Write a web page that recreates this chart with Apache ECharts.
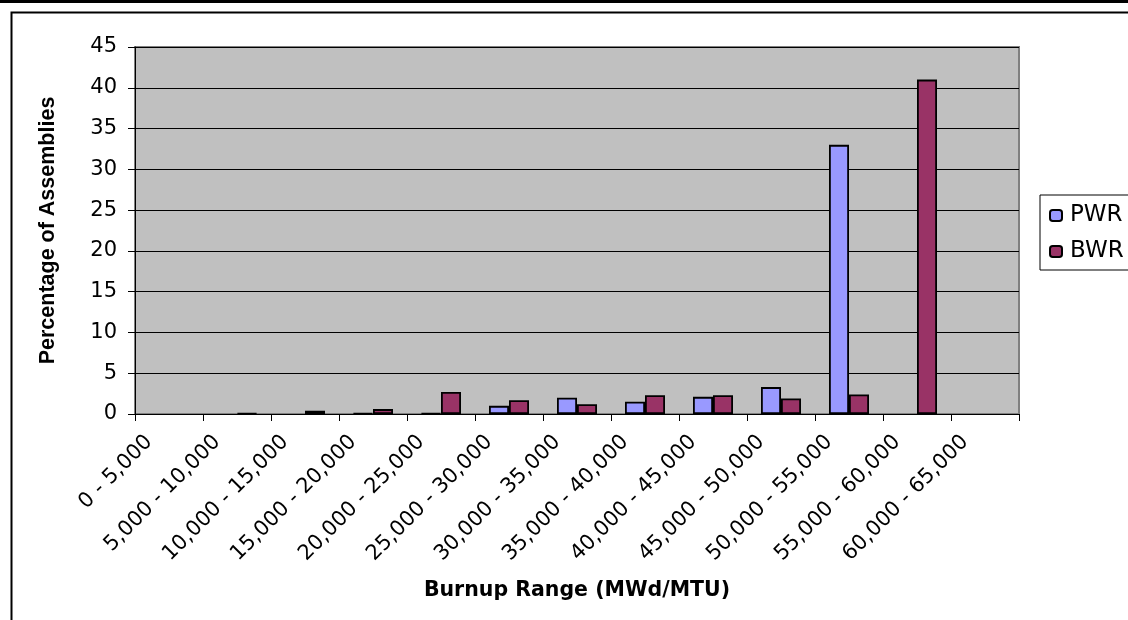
<!DOCTYPE html>
<html>
<head>
<meta charset="utf-8">
<style>
  html, body { margin: 0; padding: 0; background: #ffffff; }
  #chart { width: 1128px; height: 620px; }
</style>
<script src="https://cdn.jsdelivr.net/npm/echarts@6/dist/echarts.min.js"></script>
</head>
<body>
<div id="chart"></div>
<script>
// Burnup ranges (MWd/MTU)
const categories = [
  '0 - 5,000', '5,000 - 10,000', '10,000 - 15,000', '15,000 - 20,000',
  '20,000 - 25,000', '25,000 - 30,000', '30,000 - 35,000', '35,000 - 40,000',
  '40,000 - 45,000', '45,000 - 50,000', '50,000 - 55,000', '55,000 - 60,000',
  '60,000 - 65,000'
];

// Percentage of assemblies in each range (null = no bar)
const pwrValues = [null, null, null, 0.1, 0.1, 1.0, 2.0, 1.5, 2.1, 3.3, 33, null, null];
const bwrValues = [null, 0.1, 0.4, 0.6, 2.7, 1.7, 1.2, 2.3, 2.3, 1.9, 2.4, 41, null];

const seriesNames = ['PWR', 'BWR'];
const yTicks = { min: 0, max: 45, interval: 5 };

const WIDE = '"DejaVu Sans", Verdana, sans-serif';
const ARIAL = '"Liberation Sans", Arial, sans-serif';

const chart = echarts.init(document.getElementById('chart'), null, { renderer: 'canvas' });

chart.setOption({
  animation: false,
  backgroundColor: '#ffffff',
  textStyle: { fontFamily: WIDE },
  grid: {
    left: 135, right: 109, top: 47, bottom: 206,
    show: true,
    backgroundColor: '#c0c0c0',
    borderColor: '#808080',
    borderWidth: 2
  },
  legend: {
    orient: 'vertical',
    left: 1040, top: 195,
    padding: [9, 40, 7, 9],
    itemWidth: 12, itemHeight: 11,
    itemGap: 13,
    backgroundColor: '#ffffff',
    borderColor: '#000000',
    borderWidth: 1,
    data: seriesNames,
    textStyle: { fontSize: 23, color: '#000', fontFamily: WIDE, padding: [0, 0, 0, 3] }
  },
  xAxis: {
    type: 'category',
    data: categories,
    boundaryGap: true,
    name: 'Burnup Range (MWd/MTU)',
    nameLocation: 'middle',
    nameGap: 166,
    nameTextStyle: { fontSize: 20.5, fontWeight: 'bold', color: '#000', fontFamily: WIDE },
    axisLine: { lineStyle: { color: '#000', width: 1 } },
    axisTick: { show: true, length: 7, lineStyle: { color: '#000' } },
    axisLabel: {
      rotate: 45,
      interval: 0,
      margin: 5,
      padding: [0, 28, 0, 0],
      fontSize: 21,
      color: '#000',
      fontFamily: WIDE
    },
    splitLine: { show: false }
  },
  yAxis: {
    type: 'value',
    min: yTicks.min, max: yTicks.max, interval: yTicks.interval,
    name: 'Percentage of Assemblies',
    nameLocation: 'middle',
    nameGap: 76,
    nameRotate: 90,
    nameTextStyle: { fontSize: 21.5, fontWeight: 'bold', color: '#000', fontFamily: ARIAL },
    axisLine: { show: true, lineStyle: { color: '#000', width: 1 } },
    axisTick: { show: true, length: 7, lineStyle: { color: '#000' } },
    axisLabel: { margin: 18, fontSize: 21, color: '#000', fontFamily: WIDE },
    splitLine: { show: true, lineStyle: { color: '#000', width: 1 } }
  },
  series: [
    {
      name: seriesNames[0],
      type: 'bar',
      data: pwrValues,
      barWidth: 20,
      barGap: '0%',
      itemStyle: { color: '#9999ff', borderColor: '#000', borderWidth: 1.8 }
    },
    {
      name: seriesNames[1],
      type: 'bar',
      data: bwrValues,
      barWidth: 20,
      barGap: '0%',
      itemStyle: { color: '#993366', borderColor: '#000', borderWidth: 1.8 }
    }
  ],
  graphic: [
    // rule along the very top edge
    { type: 'rect', left: 0, top: 0, shape: { width: 1128, height: 3 }, style: { fill: '#000' }, silent: true },
    // chart frame
    { type: 'rect', left: 9, top: 10, shape: { width: 1200, height: 700 },
      style: { fill: 'none', stroke: '#000', lineWidth: 2 }, silent: true, z: -1 }
  ]
});
</script>
</body>
</html>
